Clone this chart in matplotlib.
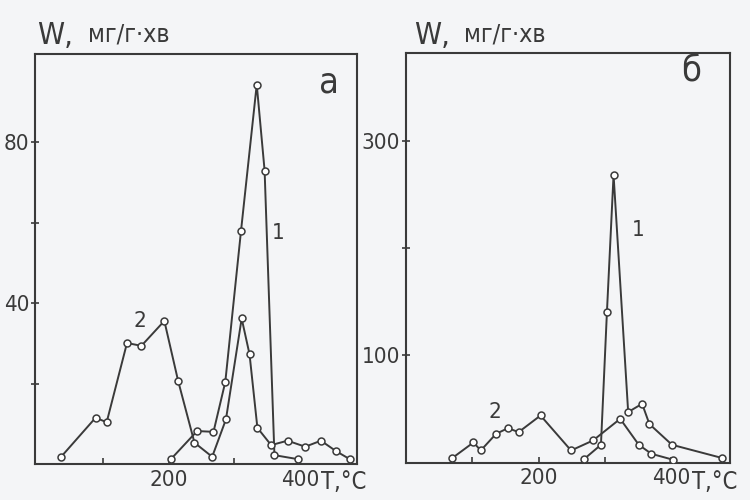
import numpy as np
import matplotlib
matplotlib.use("Agg")
import matplotlib.pyplot as plt

plt.rcParams['font.family'] = ['DejaVu Sans']
plt.rcParams['font.stretch'] = 'condensed'

# panel a: desorption rate W (mg/g*h) vs temperature T (C)
a_t1 = [203, 243, 268, 286, 310, 334, 346, 361, 397]
a_w1 = [1.2, 8.2, 8.0, 20.4, 58, 94.4, 73, 2.2, 1.2]
a_t2 = [35, 88, 105, 136, 158, 193, 214, 239, 266, 287, 311, 323, 335, 356,
        381, 408, 432, 455, 476]
a_w2 = [1.7, 11.5, 10.4, 30.1, 29.4, 35.6, 20.7, 5.3, 1.8, 11.1, 36.2, 27.3,
        9.0, 4.7, 5.8, 4.3, 5.8, 3.2, 1.2]

# panel b
b_t1 = [269, 294, 303, 313, 335, 356, 367, 401, 477]
b_w1 = [3.4, 16.5, 140, 268, 47, 54.7, 35.8, 16.5, 4.1]
b_t2 = [70, 102, 113, 136, 154, 170, 203, 249, 282, 323, 351, 370, 403]
b_w2 = [4.1, 18.7, 11.2, 26.7, 32, 28.3, 43.8, 11.2, 20.5, 40.7, 16.5, 8.1, 2.5]

a_yticks = [20, 40, 60, 80]
a_ylabels = ['', '40', '', '80']
b_yticks = [100, 200, 300]
b_ylabels = ['100', '', '300']
xticks = [100, 200, 300, 400]
xlabels = ['', '200', '', '400']

ink = '#3a3a3a'
paper = '#f4f5f7'

fig = plt.figure(figsize=(7.5, 5), dpi=100, facecolor=paper)
ax1 = fig.add_axes([0.047, 0.072, 0.429, 0.82])
ax2 = fig.add_axes([0.541, 0.075, 0.432, 0.82])


def draw(ax, t1, w1, t2, w2, xlim, ylim, yt, yl):
    ax.set_facecolor(paper)
    for t, w in ((t1, w1), (t2, w2)):
        ax.plot(t, w, color=ink, lw=1.4, marker='o', ms=5, mfc='white',
                mec=ink, mew=1.1, zorder=3)
    ax.set_xlim(*xlim)
    ax.set_ylim(*ylim)
    ax.set_xticks(xticks)
    ax.set_xticklabels(xlabels)
    ax.set_yticks(yt)
    ax.set_yticklabels(yl)
    ax.tick_params(axis='y', direction='inout', length=6, width=1.2,
                   colors=ink, labelsize=16, pad=1)
    ax.tick_params(axis='x', direction='in', length=4, width=1.2,
                   colors=ink, labelsize=16, pad=4)
    for s in ax.spines.values():
        s.set_color(ink)
        s.set_linewidth(1.5)


draw(ax1, a_t1, a_w1, a_t2, a_w2, (-4, 487), (0, 102), a_yticks, a_ylabels)
draw(ax2, b_t1, b_w1, b_t2, b_w2, (0, 488), (0, 382), b_yticks, b_ylabels)

# curve numbers and panel letters
ax1.text(367, 57.5, '1', fontsize=16, color=ink, ha='center', va='center')
ax1.text(155, 35.5, '2', fontsize=16, color=ink, ha='center', va='center')
ax1.text(444, 95, 'а', fontsize=26, color=ink, ha='center', va='center')
ax2.text(350, 217, '1', fontsize=16, color=ink, ha='center', va='center')
ax2.text(134, 47, '2', fontsize=16, color=ink, ha='center', va='center')
ax2.text(430, 364, 'б', fontsize=26, color=ink, ha='center', va='center')

# axis titles
for x0, x1 in ((0.050, 0.118), (0.552, 0.618)):
    fig.text(x0, 0.928, 'W,', fontsize=22, color=ink, ha='left', va='center')
    fig.text(x1, 0.932, 'мг/г·хв', fontsize=18, color=ink, ha='left',
             va='center')
fig.text(0.428, 0.036, 'T,°C', fontsize=17, color=ink, ha='left', va='center')
fig.text(0.923, 0.036, 'T,°C', fontsize=17, color=ink, ha='left', va='center')

fig.savefig('out.png', dpi=100, facecolor=paper)
